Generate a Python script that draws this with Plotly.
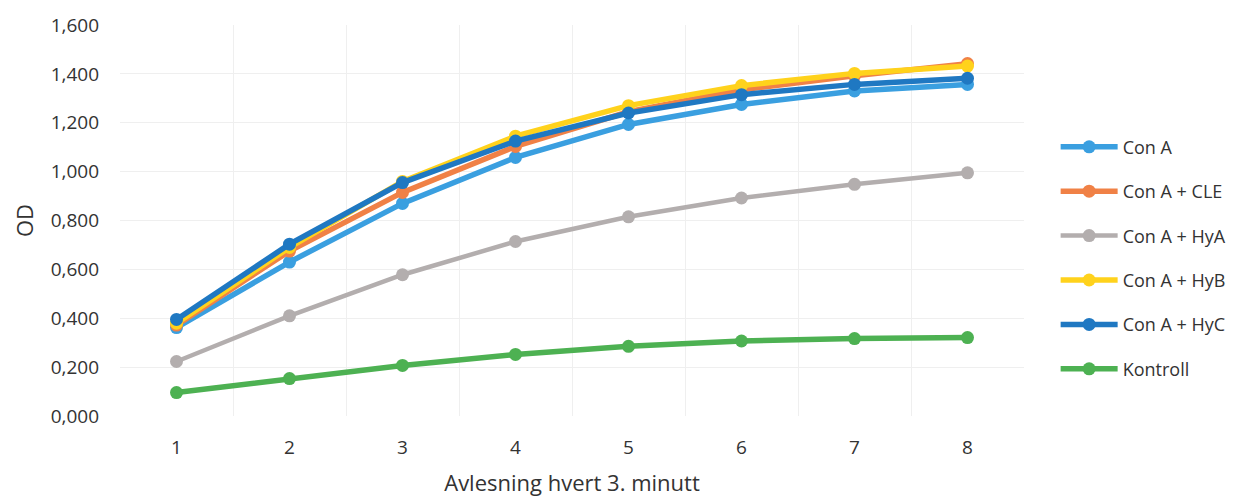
import plotly.graph_objects as go

readings = [1, 2, 3, 4, 5, 6, 7, 8]

con_a = [0.362, 0.630, 0.870, 1.058, 1.193, 1.275, 1.330, 1.357]
con_a_cle = [0.372, 0.675, 0.915, 1.103, 1.245, 1.335, 1.392, 1.442]
con_a_hya = [0.223, 0.410, 0.578, 0.714, 0.815, 0.892, 0.948, 0.995]
con_a_hyb = [0.380, 0.690, 0.960, 1.145, 1.270, 1.352, 1.402, 1.432]
con_a_hyc = [0.395, 0.703, 0.955, 1.125, 1.240, 1.315, 1.357, 1.382]
kontroll = [0.096, 0.153, 0.207, 0.252, 0.285, 0.307, 0.317, 0.321]

series = [
    ("Con A", con_a, "#3a9fe0", 5.5),
    ("Con A + CLE", con_a_cle, "#f08146", 5.5),
    ("Con A + HyA", con_a_hya, "#b3aeae", 4.5),
    ("Con A + HyB", con_a_hyb, "#ffd21c", 5.5),
    ("Con A + HyC", con_a_hyc, "#1f78c2", 5.5),
    ("Kontroll", kontroll, "#4db152", 5.5),
]

y_ticks = [0, 0.2, 0.4, 0.6, 0.8, 1.0, 1.2, 1.4, 1.6]
y_tick_text = ["0,000", "0,200", "0,400", "0,600", "0,800", "1,000", "1,200", "1,400", "1,600"]

fig = go.Figure()
for i, (name, vals, color, width) in enumerate(series):
    fig.add_trace(go.Scatter(
        x=readings, y=vals, name=name, mode="lines+markers",
        line=dict(color=color, width=width),
        marker=dict(color=color, size=13),
        legendgroup=f"g{i}",
    ))

font_family = "Open Sans, Lato, sans-serif"
text_color = "#333333"
grid_color = "#efefef"

fig.update_layout(
    width=1254, height=499,
    margin=dict(l=120, r=230, t=18, b=83),
    paper_bgcolor="white", plot_bgcolor="white",
    font=dict(family=font_family, color=text_color, size=19),
    legend=dict(
        x=1.035, y=0.735, xanchor="left", yanchor="top",
        font=dict(size=18, color=text_color),
        tracegroupgap=18, itemwidth=57,
        bgcolor="rgba(0,0,0,0)",
    ),
    xaxis=dict(
        range=[0.5, 8.5], tickvals=readings,
        ticktext=[str(r) for r in readings],
        showgrid=False, zeroline=False, showline=False,
        ticks="", ticklabelstandoff=18, automargin=False,
        tickfont=dict(size=19),
        minor=dict(tick0=0.5, dtick=1, showgrid=True, gridcolor=grid_color, gridwidth=1, ticks=""),
        title=dict(text="Avlesning hvert 3. minutt", font=dict(size=22), standoff=16),
    ),
    yaxis=dict(
        range=[0, 1.6], tickvals=y_ticks, ticktext=y_tick_text,
        showgrid=True, gridcolor=grid_color, gridwidth=1,
        zeroline=False, showline=False, ticks="",
        ticklabelstandoff=20, tickfont=dict(size=19),
        title=dict(text="OD", font=dict(size=22), standoff=10),
    ),
)

fig.write_html("out.html")
